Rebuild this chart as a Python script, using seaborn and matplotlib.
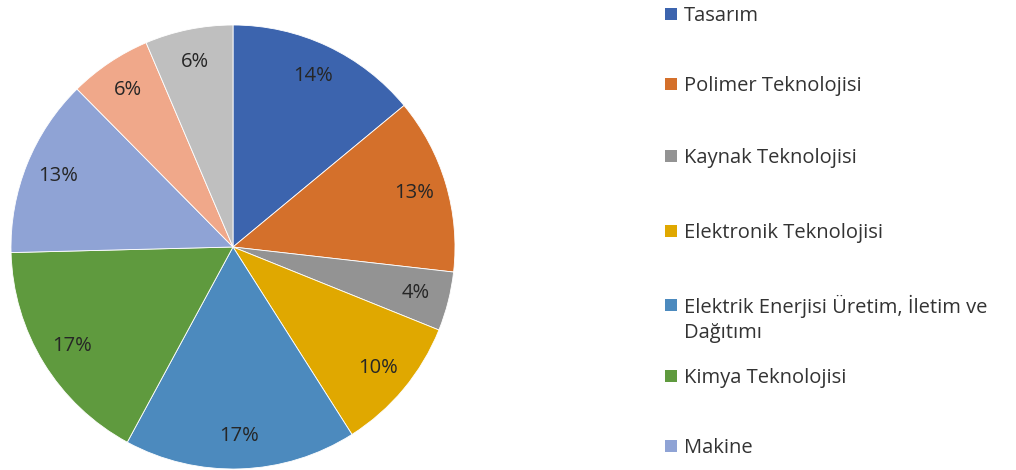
import matplotlib
matplotlib.use("Agg")
import matplotlib.pyplot as plt
import seaborn as sns

categories = ["Tasarım", "Polimer Teknolojisi", "Kaynak Teknolojisi",
              "Elektronik Teknolojisi", "Elektrik Enerjisi Üretim, İletim ve\nDağıtımı",
              "Kimya Teknolojisi", "Makine", "Diğer A", "Diğer B"]
values = [14.0, 12.8, 4.3, 9.9, 16.9, 16.7, 13.0, 6.0, 6.4]
colors = ["#3C64AE", "#D4702B", "#939393", "#E0A800", "#4C8ABE",
          "#5F9A3E", "#8FA3D5", "#F0A88A", "#BFBFBF"]
legend_count = 7  # entries visible in the legend (the rest fall below the canvas)
legend_rows_px = [15, 85, 157, 232, 304, 377, 447]  # first-line centre of each legend entry

sns.set_theme(style="white")
plt.rcParams['font.family'] = ['Open Sans', 'DejaVu Sans']

W, H = 1016, 470
fig = plt.figure(figsize=(W / 100, H / 100), dpi=100)
ax = fig.add_axes([11/W, 1/H, 444/W, 444/H])

wedges, texts, autotexts = ax.pie(
    values, colors=colors, startangle=90, counterclock=False,
    autopct=lambda p: f"{p:.0f}%", pctdistance=0.85,
    wedgeprops=dict(edgecolor="white", linewidth=0.6),
    textprops=dict(color="#262626", fontsize=14.5))
ax.set_xlim(-1, 1)
ax.set_ylim(-1, 1)
ax.set_aspect("equal")
ax.axis("off")

for i in range(legend_count):
    y_top = legend_rows_px[i] - 17
    leg = fig.legend([wedges[i]], [categories[i]],
                     loc="upper left", bbox_to_anchor=(657/W, 1 - y_top/H),
                     frameon=False, fontsize=14.5, labelcolor="#333333",
                     handlelength=0.6, handleheight=0.6, handletextpad=0.35,
                     borderaxespad=0)
    h = leg.legend_handles[0]
    h.set_edgecolor("none")
    if "\n" in categories[i]:
        leg.get_texts()[0].set_linespacing(1.35)
        h.set_y(h.get_y() + 10.5)

fig.savefig("out.png", dpi=100)
